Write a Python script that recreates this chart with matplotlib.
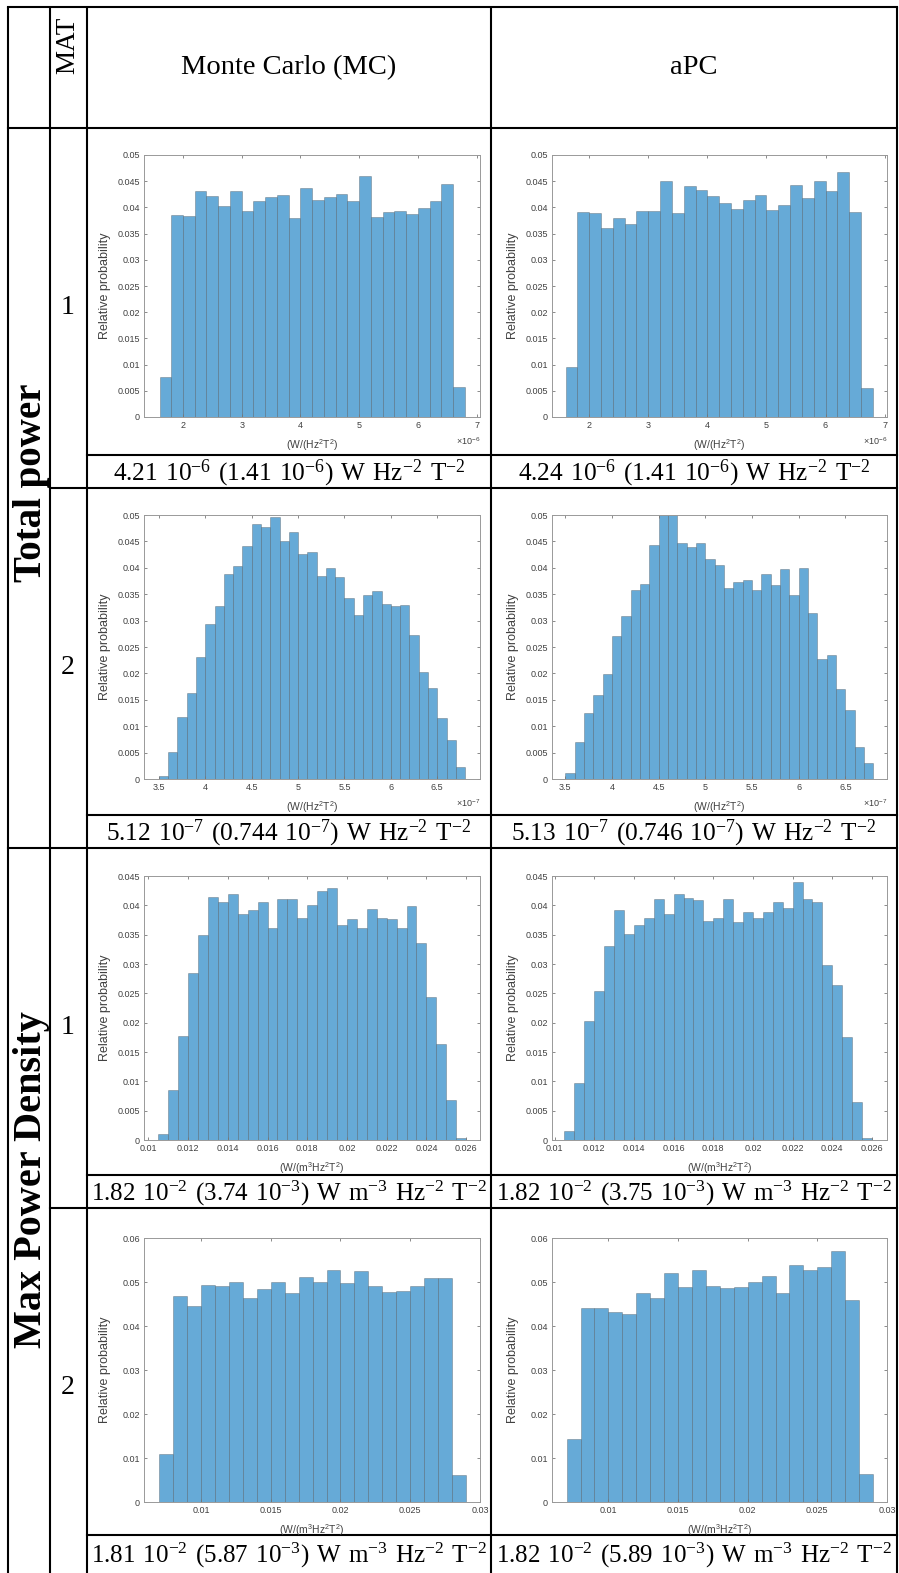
import numpy as np
import matplotlib
matplotlib.use('Agg')
import matplotlib.pyplot as plt
from matplotlib.ticker import FuncFormatter

plt.rcParams['font.family'] = ['Liberation Sans', 'DejaVu Sans']
plt.rcParams['mathtext.default'] = 'regular'

# relative probability per bin
tp1_mc = [0.0076, 0.0386, 0.0383, 0.0431, 0.0421, 0.0403, 0.0432, 0.0394, 0.0413,
          0.0420, 0.0423, 0.0380, 0.0437, 0.0414, 0.0420, 0.0426, 0.0412, 0.0460,
          0.0381, 0.0391, 0.0394, 0.0387, 0.0398, 0.0413, 0.0445, 0.0057]
tp1_apc = [0.0095, 0.0391, 0.0389, 0.0361, 0.0379, 0.0368, 0.0394, 0.0394, 0.0450,
           0.0390, 0.0440, 0.0433, 0.0421, 0.0409, 0.0397, 0.0414, 0.0424, 0.0395,
           0.0404, 0.0442, 0.0417, 0.0450, 0.0432, 0.0468, 0.0391, 0.0055]
tp2_mc = [0.0006, 0.0051, 0.0118, 0.0162, 0.0231, 0.0293, 0.0327, 0.0389, 0.0404,
          0.0441, 0.0483, 0.0478, 0.0496, 0.0451, 0.0468, 0.0427, 0.0429, 0.0385,
          0.0400, 0.0382, 0.0342, 0.0311, 0.0349, 0.0356, 0.0332, 0.0328, 0.0330,
          0.0272, 0.0202, 0.0173, 0.0115, 0.0074, 0.0023]
tp2_apc = [0.0011, 0.0071, 0.0125, 0.0160, 0.0199, 0.0270, 0.0308, 0.0358, 0.0370,
           0.0444, 0.0505, 0.0505, 0.0447, 0.0440, 0.0447, 0.0416, 0.0406, 0.0362,
           0.0373, 0.0376, 0.0358, 0.0389, 0.0368, 0.0398, 0.0349, 0.0400, 0.0315,
           0.0228, 0.0234, 0.0171, 0.0131, 0.0061, 0.0030]
mpd1_mc = [0.0010, 0.0086, 0.0177, 0.0285, 0.0349, 0.0415, 0.0406, 0.0420, 0.0386,
           0.0392, 0.0406, 0.0361, 0.0410, 0.0410, 0.0378, 0.0401, 0.0424, 0.0430,
           0.0366, 0.0377, 0.0362, 0.0394, 0.0379, 0.0376, 0.0361, 0.0399, 0.0335,
           0.0243, 0.0163, 0.0068, 0.0003]
mpd1_apc = [0.0016, 0.0098, 0.0203, 0.0254, 0.0331, 0.0392, 0.0351, 0.0366, 0.0379,
            0.0410, 0.0386, 0.0420, 0.0413, 0.0409, 0.0373, 0.0379, 0.0410, 0.0372,
            0.0388, 0.0379, 0.0389, 0.0405, 0.0395, 0.0440, 0.0410, 0.0406, 0.0298,
            0.0264, 0.0175, 0.0065, 0.0003]
mpd2_mc = [0.0108, 0.0468, 0.0446, 0.0493, 0.0490, 0.0500, 0.0463, 0.0484, 0.0500,
           0.0474, 0.0511, 0.0500, 0.0528, 0.0497, 0.0526, 0.0490, 0.0477, 0.0480,
           0.0490, 0.0510, 0.0510, 0.0062]
mpd2_apc = [0.0144, 0.0440, 0.0440, 0.0431, 0.0427, 0.0474, 0.0463, 0.0520, 0.0489,
            0.0527, 0.0490, 0.0487, 0.0489, 0.0500, 0.0513, 0.0474, 0.0538, 0.0527,
            0.0535, 0.0570, 0.0460, 0.0064]

# bin start and bin width (x in axis units, total power in 1e-6 / 1e-7)
tp1_bins = (1.6, 0.2)
tp2_bins = (3.5, 0.1)
mpd1_bins = (0.0105, 0.0005)
mpd2_bins = (0.007, 0.001)

tp1_xticks = [2, 3, 4, 5, 6, 7]
tp2_xticks = [3.5, 4, 4.5, 5, 5.5, 6, 6.5]
mpd1_xticks = [0.01, 0.012, 0.014, 0.016, 0.018, 0.02, 0.022, 0.024, 0.026]
mpd2_xticks = [0.01, 0.015, 0.02, 0.025, 0.03]
tp_yticks = [0, 0.005, 0.01, 0.015, 0.02, 0.025, 0.03, 0.035, 0.04, 0.045, 0.05]
mpd1_yticks = [0, 0.005, 0.01, 0.015, 0.02, 0.025, 0.03, 0.035, 0.04, 0.045]
mpd2_yticks = [0, 0.01, 0.02, 0.03, 0.04, 0.05, 0.06]

columns = ['Monte Carlo (MC)', 'aPC']
groups = ['Total power', 'Max Power Density']
mats = ['1', '2', '1', '2']
stats = [
    [r'$\mathregular{4.21\ 10^{-6}\ (1.41\ 10^{-6})\ W\ Hz^{-2}\ T^{-2}}$',
     r'$\mathregular{4.24\ 10^{-6}\ (1.41\ 10^{-6})\ W\ Hz^{-2}\ T^{-2}}$'],
    [r'$\mathregular{5.12\ 10^{-7}\ (0.744\ 10^{-7})\ W\ Hz^{-2}\ T^{-2}}$',
     r'$\mathregular{5.13\ 10^{-7}\ (0.746\ 10^{-7})\ W\ Hz^{-2}\ T^{-2}}$'],
    [r'$\mathregular{1.82\ 10^{-2}\ (3.74\ 10^{-3})\ W\ m^{-3}\ Hz^{-2}\ T^{-2}}$',
     r'$\mathregular{1.82\ 10^{-2}\ (3.75\ 10^{-3})\ W\ m^{-3}\ Hz^{-2}\ T^{-2}}$'],
    [r'$\mathregular{1.81\ 10^{-2}\ (5.87\ 10^{-3})\ W\ m^{-3}\ Hz^{-2}\ T^{-2}}$',
     r'$\mathregular{1.82\ 10^{-2}\ (5.89\ 10^{-3})\ W\ m^{-3}\ Hz^{-2}\ T^{-2}}$'],
]

W, H = 899, 1573
fig = plt.figure(figsize=(W / 100, H / 100), dpi=100)

# table grid drawn on a full-figure axes in pixel units
grid = fig.add_axes([0, 0, 1, 1])
grid.set_xlim(0, W)
grid.set_ylim(H, 0)
grid.axis('off')

lw = 1.5
for x in [8, 50, 87, 491, 897]:
    grid.plot([x, x], [7, H], color='black', lw=lw, solid_capstyle='butt')
grid.plot([8, 897], [7, 7], color='black', lw=lw)
grid.plot([8, 897], [128, 128], color='black', lw=lw)

# (plot top, plot bottom, text bottom) for each row
rows = [(128, 455, 488), (488, 815, 848), (848, 1175, 1208), (1208, 1535, 1573)]
for i, (t, m, b) in enumerate(rows):
    grid.plot([87, 897], [m, m], color='black', lw=lw)
    if i == 1:
        grid.plot([8, 897], [b, b], color='black', lw=lw)
    elif i != 3:
        grid.plot([50, 897], [b, b], color='black', lw=lw)

serif = 'Liberation Serif'
grid.text(68, 45, 'MAT', family=serif, fontsize=19.5, rotation=90, ha='center', va='center')
grid.text(289, 68, columns[0], family=serif, fontsize=20.5, ha='center', va='center')
grid.text(694, 68, columns[1], family=serif, fontsize=20.5, ha='center', va='center')
grid.text(32, 483, groups[0], family=serif, fontsize=28, fontweight='bold',
          rotation=90, ha='center', va='center')
grid.text(32, 1180, groups[1], family=serif, fontsize=29, fontweight='bold',
          rotation=90, ha='center', va='center')

stat_size = [18.2, 18.2, 18.0, 18.0]
for i, (t, m, b) in enumerate(rows):
    grid.text(68, (t + (b if i < 3 else 1568)) / 2, mats[i], family=serif, fontsize=20,
              ha='center', va='center')
    ty = (m + b) / 2 + 2 if i < 3 else 1555
    grid.text(289, ty, stats[i][0], family=serif, fontsize=stat_size[i],
              ha='center', va='center')
    grid.text(694, ty, stats[i][1], family=serif, fontsize=stat_size[i],
              ha='center', va='center')

panels = [
    (tp1_mc, tp1_bins, tp1_xticks, tp_yticks, (1.336, 7.057), 0.05, 0, 155, 417),
    (tp1_apc, tp1_bins, tp1_xticks, tp_yticks, (1.37, 7.04), 0.05, 1, 155, 417),
    (tp2_mc, tp2_bins, tp2_xticks, tp_yticks, (3.34, 6.96), 0.05, 0, 515, 779),
    (tp2_apc, tp2_bins, tp2_xticks, tp_yticks, (3.357, 6.946), 0.05, 1, 515, 779),
    (mpd1_mc, mpd1_bins, mpd1_xticks, mpd1_yticks, (0.00978, 0.0267), 0.045, 0, 876, 1140),
    (mpd1_apc, mpd1_bins, mpd1_xticks, mpd1_yticks, (0.00987, 0.02676), 0.045, 1, 876, 1140),
    (mpd2_mc, mpd2_bins, mpd2_xticks, mpd2_yticks, (0.00592, 0.03), 0.06, 0, 1238, 1502),
    (mpd2_apc, mpd2_bins, mpd2_xticks, mpd2_yticks, (0.00595, 0.03), 0.06, 1, 1238, 1502),
]
xlabels = [r'(W/(Hz$^{2}$T$^{2}$)', r'(W/(m$^{3}$Hz$^{2}$T$^{2}$)']
multipliers = [r'$\times$10$^{-6}$', r'$\times$10$^{-7}$']

fmt = FuncFormatter(lambda v, p: '%g' % round(v, 6))
for k, (h, (start, width), xt, yt, xl, ytop, col, top, bot) in enumerate(panels):
    left, right = (144, 480) if col == 0 else (552, 887)
    ax = fig.add_axes([left / W, 1 - bot / H, (right - left) / W, (bot - top) / H])
    x = start + width * np.arange(len(h))
    ax.bar(x, h, width=width, align='edge', color='#66aad7',
           edgecolor=(0.15, 0.15, 0.15, 0.3), linewidth=0.6)
    ax.set_xlim(*xl)
    ax.set_ylim(0, ytop)
    ax.set_xticks(xt)
    ax.set_yticks(yt)
    ax.xaxis.set_major_formatter(fmt)
    ax.yaxis.set_major_formatter(fmt)
    ax.tick_params(direction='in', top=True, right=True, length=2.5, width=0.6,
                   color='#777777', labelcolor='#404040', labelsize=6.5, pad=3)
    for s in ax.spines.values():
        s.set_color('#999999')
        s.set_linewidth(0.7)
    ax.text(-39 / (right - left), 0.5, 'Relative probability', transform=ax.transAxes,
            rotation=90, ha='center', va='center', fontsize=9, color='#404040')
    ax.text(0.5, -0.108, xlabels[k // 4], transform=ax.transAxes, ha='center',
            va='center', fontsize=7.5, color='#404040')
    if k < 4:
        ax.text(1.0, -0.092, multipliers[k // 2], transform=ax.transAxes, ha='right',
                va='center', fontsize=6.5, color='#404040')

fig.savefig('out.png', dpi=100)
